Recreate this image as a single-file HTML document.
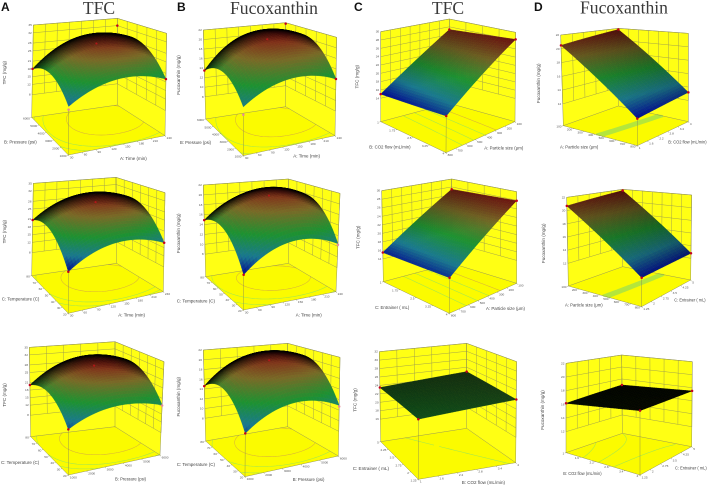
<!DOCTYPE html>
<html lang="en">
<head>
<meta charset="utf-8">
<title>Response surface plots: TFC and Fucoxanthin</title>
<style>
html,body{margin:0;padding:0;background:#fff;width:708px;height:490px;overflow:hidden}
svg{display:block;filter:blur(.35px)}
.title{font-family:"Liberation Serif",serif;font-size:17.6px;fill:#3a3a3a;text-anchor:middle}
.letter{font-family:"Liberation Sans",sans-serif;font-size:12px;font-weight:bold;fill:#111}
.lab{font-family:"Liberation Sans",sans-serif;font-size:4.6px;fill:#444}
.tick{font-family:"Liberation Sans",sans-serif;font-size:3.1px;fill:#555}
</style>
</head>
<body>
<svg id="figure" width="708" height="490" viewBox="0 0 708 490" xmlns="http://www.w3.org/2000/svg">
<rect width="708" height="490" fill="#fff"/>
<text class="letter" x="1" y="11">A</text>
<text class="letter" x="177" y="11">B</text>
<text class="letter" x="354" y="11">C</text>
<text class="letter" x="534" y="11">D</text>
<text class="title" x="99" y="14">TFC</text>
<text class="title" x="274" y="14">Fucoxanthin</text>
<text class="title" x="448" y="14">TFC</text>
<text class="title" x="624" y="13.5">Fucoxanthin</text>
</svg>
<script>
// ---- Data: response values, rows run front->left, columns run front->right ----
const surfaceA1 = [[15, 21.5, 19], [21.2, 30.2, 28.5], [18, 28.5, 27.5]];
const surfaceB1 = [[12, 15.6, 14.1], [15.8, 21.2, 20.2], [13.5, 20.2, 18.8]];
const surfaceA2 = [[12.6, 19.6, 16.8], [21.8, 30.2, 27.8], [20.7, 28.8, 26.8]];
const surfaceB2 = [[9.4, 14, 12.5], [15.2, 20.8, 19.3], [14.9, 19.6, 18.3]];
const surfaceA3 = [[14.2, 20, 18.5], [21.8, 30.6, 28.8], [20, 29.3, 27.8]];
const surfaceB3 = [[10.9, 14.8, 12.9], [16.3, 21, 19.8], [14.6, 20, 18.8]];
const surfaceC1 = [[16.1, 28.3], [15, 27.3]];
const surfaceC2 = [[16, 27.9], [15.5, 27.4]];
const surfaceC3 = [[22.4, 24], [23.5, 24.9]];
const surfaceD1 = [[12.4, 13.2], [20.5, 21.8]];
const surfaceD2 = [[12.6, 12.8], [20.7, 21.8]];
const surfaceD3 = [[18.1, 17.5], [16.15, 17]];

// Design-point values: front, right, left, back, optional centre
const pointsA1 = [14, 19, 18, 32, 30.2];
const pointsB1 = [10.6, 14.1, 13.5, 21.8, 21.2];
const pointsA2 = [12.6, 16.8, 20.7, 0, 30.2];
const pointsB2 = [9.4, 12.3, 14.9, 0, 20.8];
const pointsA3 = [14.2, 18.3, 20, 0, 30.6];
const pointsB3 = [10.9, 12.7, 14.6, 0, 21];
const pointsC1 = [16.1, 28.3, 15, 27.3];
const pointsC2 = [16, 27.9, 15.5, 27.4];
const pointsC3 = [22.4, 24, 23.5, 24.9];
const pointsD1 = [12.4, 13.2, 20.5, 21.8];
const pointsD2 = [12.6, 12.8, 20.7, 21.8];
const pointsD3 = [18.1, 17.5, 16.15, 17];

// Tick labels
const ticksTfcDome = [8, 12, 15, 18, 21, 25, 28, 32, 35];
const ticksFucoDome = [8, 10, 12, 14, 16, 18, 20, 22];
const ticksTfcPlane = [14, 16, 18, 20, 22, 24, 26, 28, 30];
const ticksTfcFlat = [16, 18, 20, 22, 24, 26, 28, 30, 32];
const ticksFucoPlane = [12, 14, 16, 18, 20, 22];
const ticksTime = [30, 60, 90, 120, 150, 180, 210, 240];
const ticksPressure = [1000, 2000, 3000, 4000, 5000, 6000];
const ticksTemperature = [20, 30, 40, 50, 60, 70, 80];
const ticksParticle = [800, 700, 600, 500, 400, 300, 200, 100];
const ticksFlowDown = [4, 3.25, 2.5, 1.75, 1];
const ticksFlowUp = [1, 1.6, 2.2, 2.8, 3.4, 4];
const ticksFlowDownFine = [4, 3.4, 2.8, 2.2, 1.6, 1];
const ticksEntrainerDown = [4, 3.25, 2.5, 1.75, 1];
const ticksEntrainerUp = [1.25, 2, 2.75, 3.5, 4.25, 5];

// Floor contour levels
const contoursTfc = [19, 22, 28];
const contoursFuco = [13, 16, 19.5];
const contoursC12 = [19, 21, 23, 25];
const contoursC3 = [23.9];
const contoursD12 = [16.3, 16.45, 16.6, 16.75, 16.9];
const contoursD3 = [16.6, 17, 17.4];

// ---- Layout: corner positions in 3x crop coordinates, plus crop origin ----
const panels = [
 {id:'a1',o:[0,0],F:[205,465],L:[95,352],R:[495,407],B:[352,315],TF:[207,135],TL:[100,75],TR:[500,100],TB:[352,55],low:.245,z:surfaceA1,pts:pointsA1,zt:ticksTfcDome,ut:ticksTime,vt:ticksPressure,c:[12,32],lv:contoursTfc,
  y:['TFC (mg/g)',18,218],l:['B: Pressure (psi)',12,425,98],r:['A: Time (min)',360,475,80]},
 {id:'b1',o:[175,0],F:[205,467],L:[92,357],R:[480,407],B:[332,320],TF:[205,152],TL:[85,90],TR:[485,112],TB:[332,68],low:.25,z:surfaceB1,pts:pointsB1,zt:ticksFucoDome,ut:ticksTime,vt:ticksPressure,c:[9,22],lv:contoursFuco,
  y:['Fucoxanthin (mg/g)',15,225],l:['B: Pressure (psi)',15,427,93],r:['A: Time (min)',355,468,80]},
 {id:'c1',o:[350,0],F:[288,458],L:[92,365],R:[495,365],B:[298,310],TF:[290,150],TL:[92,95],TR:[497,97],TB:[298,57],low:.26,z:surfaceC1,pts:pointsC1,zt:ticksTfcPlane,ut:ticksParticle,vt:ticksFlowDown,c:[15,28.3],lv:contoursC12,
  y:['TFC (mg/g)',25,230],l:['B: CO2 flow (mL/min)',58,440,124],r:['A: Particle size (\u03bcm)',403,443,117]},
 {id:'d1',o:[530,0],F:[322,437],L:[100,377],R:[475,365],B:[265,318],TF:[322,137],TL:[92,105],TR:[475,100],TB:[265,85],low:.24,z:surfaceD1,pts:pointsD1,zt:ticksFucoPlane,ut:ticksFlowUp,vt:ticksParticle,c:[12.4,21.8],lv:contoursD12,band:1,
  y:['Fucoxanthin (mg/g)',30,250],l:['A: Particle size (\u03bcm)',90,440,115],r:['B: CO2 flow (mL/min)',415,425,115]},
 {id:'a2',o:[0,160],F:[205,460],L:[95,347],R:[490,395],B:[350,310],TF:[205,130],TL:[100,70],TR:[495,98],TB:[348,52],low:.25,z:surfaceA2,pts:pointsA2,zt:ticksTfcDome,ut:ticksTime,vt:ticksTemperature,c:[12.6,32],lv:contoursTfc,
  y:['TFC (mg/g)',18,215],l:['C: Temperature (C)',5,417,113],r:['A: Time (min)',355,465,80]},
 {id:'b2',o:[175,160],F:[205,450],L:[92,350],R:[483,395],B:[340,310],TF:[208,120],TL:[85,75],TR:[495,100],TB:[340,57],low:.245,z:surfaceB2,pts:pointsB2,zt:ticksFucoDome,ut:ticksTime,vt:ticksTemperature,c:[9.4,22],lv:contoursFuco,
  y:['Fucoxanthin (mg/g)',15,220],l:['C: Temperature (C)',5,423,115],r:['A: Time (min)',362,465,78]},
 {id:'c2',o:[350,160],F:[298,460],L:[100,365],R:[500,370],B:[305,310],TF:[300,150],TL:[95,92],TR:[500,95],TB:[305,57],low:.25,z:surfaceC2,pts:pointsC2,zt:ticksTfcPlane,ut:ticksParticle,vt:ticksEntrainerDown,c:[15,28],lv:contoursC12,
  y:['TFC (mg/g)',28,232],l:['C: Entrainer ( mL)',75,442,103],r:['A: Particle size (\u03bcm)',408,445,117]},
 {id:'d2',o:[530,160],F:[335,440],L:[115,378],R:[482,360],B:[278,320],TF:[335,150],TL:[110,112],TR:[485,105],TB:[278,88],low:.255,z:surfaceD2,pts:pointsD2,zt:ticksFucoPlane,ut:ticksEntrainerUp,vt:ticksParticle,c:[12.5,21.8],lv:contoursD12,band:1,
  y:['Fucoxanthin (mg/g)',45,250],l:['A: Particle size (\u03bcm)',105,435,113],r:['C: Entrainer ( mL)',433,420,94]},
 {id:'a3',o:[0,320],F:[205,465],L:[92,350],R:[480,405],B:[345,320],TF:[205,135],TL:[88,82],TR:[492,125],TB:[345,65],low:.24,z:surfaceA3,pts:pointsA3,zt:ticksTfcDome,ut:ticksPressure,vt:ticksTemperature,c:[12,32],lv:contoursTfc,
  y:['TFC (mg/g)',18,225],l:['C: Temperature (C)',3,427,115],r:['B: Pressure (psi)',345,477,93]},
 {id:'b3',o:[175,320],F:[210,470],L:[92,363],R:[490,408],B:[338,320],TF:[212,150],TL:[85,90],TR:[495,112],TB:[338,70],low:.25,z:surfaceB3,pts:pointsB3,zt:ticksFucoDome,ut:ticksPressure,vt:ticksTemperature,c:[9.5,22],lv:contoursFuco,
  y:['Fucoxanthin (mg/g)',15,230],l:['C: Temperature (C)',5,433,115],r:['B: Pressure (psi)',353,478,95]},
 {id:'c3',o:[350,320],F:[205,478],L:[92,365],R:[497,428],B:[350,325],TF:[205,150],TL:[88,95],TR:[500,125],TB:[350,70],low:.25,z:surfaceC3,pts:pointsC3,zt:ticksTfcFlat,ut:ticksFlowUp,vt:ticksEntrainerUp,c:[12,36],lv:contoursC3,
  y:['TFC (mg/g)',20,240],l:['C: Entrainer ( mL)',8,445,109],r:['B: CO2 flow (mL/min)',335,487,130]},
 {id:'d3',o:[530,320],F:[330,465],L:[108,398],R:[485,380],B:[277,340],TF:[330,190],TL:[108,130],TR:[487,125],TB:[275,105],low:.235,z:surfaceD3,pts:pointsD3,zt:ticksFucoPlane,ut:ticksEntrainerUp,vt:ticksFlowDownFine,c:[12,22],lv:contoursD3,
  y:['Fucoxanthin (mg/g)',42,270],l:['B: CO2 flow (mL/min)',100,460,115],r:['C: Entrainer ( mL)',435,443,95]}
];

const NS = 'http://www.w3.org/2000/svg';
const figure = document.getElementById('figure');
const MESH = 34;
const RAMP = [[0,[0,8,145]],[.2,[25,120,145]],[.45,[28,145,50]],[.72,[120,105,40]],[1,[130,20,20]]];

function make(tag, parent){
  const e = document.createElementNS(NS, tag);
  parent.appendChild(e);
  return e;
}
function lerp(a,b,t){return a+(b-a)*t;}
function bilerp(c00,c10,c01,c11,u,v){
  return [lerp(lerp(c00[0],c10[0],u),lerp(c01[0],c11[0],u),v),
          lerp(lerp(c00[1],c10[1],u),lerp(c01[1],c11[1],u),v)];
}
function basis(n,x){
  const w=[];
  for(let i=0;i<n;i++){
    let p=1;
    for(let j=0;j<n;j++){ if(j!==i) p*=(x*(n-1)-j)/(i-j); }
    w.push(p);
  }
  return w;
}
function surfaceAt(grid,u,v){
  const wv=basis(grid.length,v), wu=basis(grid[0].length,u);
  let s=0;
  for(let i=0;i<grid.length;i++) for(let j=0;j<grid[0].length;j++) s+=wv[i]*wu[j]*grid[i][j];
  return s;
}
function rampColor(f,b){
  f=Math.max(0,Math.min(1,f));
  let k=0;
  while(k<RAMP.length-2 && f>RAMP[k+1][0]) k++;
  const t=(f-RAMP[k][0])/(RAMP[k+1][0]-RAMP[k][0]);
  const c=RAMP[k][1].map((x,i)=>Math.round(lerp(x,RAMP[k+1][1][i],t)*b));
  return 'rgb('+c.join(',')+')';
}
function polyArea(p){
  let a=0;
  for(let i=0;i<p.length;i++){
    const q=p[(i+1)%p.length];
    a+=p[i][0]*q[1]-q[0]*p[i][1];
  }
  return a/2;
}
function fmt(p){return p[0].toFixed(2)+','+p[1].toFixed(2);}

panels.forEach(function(P){
  const sc=function(c){return [P.o[0]+c[0]/3,P.o[1]+c[1]/3];};
  const F=sc(P.F),L=sc(P.L),R=sc(P.R),B=sc(P.B),TF=sc(P.TF),TL=sc(P.TL),TR=sc(P.TR),TB=sc(P.TB);
  const zMin=P.zt[0], zMax=P.zt[P.zt.length-1];
  const heightFrac=function(z){return P.low+(1-P.low)*(z-zMin)/(zMax-zMin);};
  const project=function(u,v,t){
    const a=bilerp(F,R,L,B,u,v), b=bilerp(TF,TR,TL,TB,u,v);
    return [lerp(a[0],b[0],t),lerp(a[1],b[1],t)];
  };
  const colorFrac=function(z){return (z-P.c[0])/(P.c[1]-P.c[0]);};

  const g=make('g',figure);
  
  

  // walls and floor
  const wallLeft=make('polygon',g);
  
  
  wallLeft.setAttribute('points',[L,B,TB,TL].map(fmt).join(' '));
  wallLeft.setAttribute('fill','#ffff14');
  const wallRight=make('polygon',g);
  
  
  wallRight.setAttribute('points',[B,R,TR,TB].map(fmt).join(' '));
  wallRight.setAttribute('fill','#ffff14');
  const floor=make('polygon',g);
  
  
  floor.setAttribute('points',[F,R,B,L].map(fmt).join(' '));
  floor.setAttribute('fill','#fbfb00');

  // wall grid
  let wallPath='';
  P.zt.forEach(function(z){
    const t=heightFrac(z);
    wallPath+='M'+fmt(project(0,1,t))+'L'+fmt(project(1,1,t))+'L'+fmt(project(1,0,t));
  });
  P.ut.forEach(function(_,i){
    const u=i/(P.ut.length-1);
    wallPath+='M'+fmt(project(u,1,P.low))+'L'+fmt(project(u,1,1));
  });
  P.vt.forEach(function(_,i){
    const v=i/(P.vt.length-1);
    wallPath+='M'+fmt(project(1,v,P.low))+'L'+fmt(project(1,v,1));
  });
  const wallGrid=make('path',g);
  
  
  wallGrid.setAttribute('d',wallPath);
  wallGrid.setAttribute('fill','none');
  wallGrid.setAttribute('stroke','#9a9a50');
  wallGrid.setAttribute('stroke-width','.45');

  // floor contours
  P.lv.forEach(function(level){
    const M=40;
    let d='';
    for(let i=0;i<M;i++) for(let j=0;j<M;j++){
      const corners=[[j/M,i/M],[(j+1)/M,i/M],[(j+1)/M,(i+1)/M],[j/M,(i+1)/M]];
      const vals=corners.map(function(c){return surfaceAt(P.z,c[0],c[1]);});
      const hits=[];
      for(let e=0;e<4;e++){
        const a=vals[e], b=vals[(e+1)%4];
        if((a-level)*(b-level)<0){
          const s=(level-a)/(b-a), c0=corners[e], c1=corners[(e+1)%4];
          hits.push(project(lerp(c0[0],c1[0],s),lerp(c0[1],c1[1],s),0));
        }
      }
      if(hits.length>=2) d+='M'+fmt(hits[0])+'L'+fmt(hits[1]);
    }
    const contour=make('path',g);
    
    
    contour.setAttribute('d',d);
    contour.setAttribute('fill','none');
    contour.setAttribute('stroke',P.band?'#b4e63c':(colorFrac(level)>.72?'#d8b23a':'#a2e650'));
    contour.setAttribute('stroke-width',P.band?'2':'.55');
  });

  // box edges and floor ticks
  let edgePath='M'+fmt(L)+'L'+fmt(F)+'L'+fmt(R)+'L'+fmt(B)+'L'+fmt(L)
    +'M'+fmt(L)+'L'+fmt(TL)+'L'+fmt(TB)+'L'+fmt(TR)+'L'+fmt(R)+'M'+fmt(B)+'L'+fmt(TB);
  P.ut.forEach(function(_,i){
    const p=project(i/(P.ut.length-1),0,0);
    edgePath+='M'+fmt(p)+'L'+fmt([p[0]+.8,p[1]+1.2]);
  });
  P.vt.forEach(function(_,i){
    const p=project(0,i/(P.vt.length-1),0);
    edgePath+='M'+fmt(p)+'L'+fmt([p[0]-1.2,p[1]+.4]);
  });
  const edges=make('path',g);
  
  
  edges.setAttribute('d',edgePath);
  edges.setAttribute('fill','none');
  edges.setAttribute('stroke','#8d8d50');
  edges.setAttribute('stroke-width','.45');

  // drop line from front corner
  const dropLine=make('line',g);
  
  
  const dropTop=project(0,0,heightFrac(P.pts[0]));
  dropLine.setAttribute('x1',F[0]);
  dropLine.setAttribute('y1',F[1]);
  dropLine.setAttribute('x2',dropTop[0]);
  dropLine.setAttribute('y2',dropTop[1]);
  dropLine.setAttribute('stroke','#8d8d50');
  dropLine.setAttribute('stroke-width','.45');

  // surface mesh, painted from the back corner to the front
  const mesh=make('g',g);
  
  
  const node=function(i,j){
    return project(j/MESH,i/MESH,heightFrac(surfaceAt(P.z,j/MESH,i/MESH)));
  };
  const orient=Math.sign(polyArea([F,R,B,L]));
  for(let i=MESH-1;i>=0;i--){
    for(let j=MESH-1;j>=0;j--){
      const q=[node(i,j),node(i,j+1),node(i+1,j+1),node(i+1,j)];
      const area=polyArea(q)*orient*MESH*MESH;
      const bright=Math.pow(Math.max(0,Math.min(1,(area-1500)/4500)),1.1);
      const zMid=surfaceAt(P.z,(j+.5)/MESH,(i+.5)/MESH);
      const col=rampColor(colorFrac(zMid),bright);
      const cell=make('polygon',mesh);
      
      
      cell.setAttribute('points',q.map(fmt).join(' '));
      cell.setAttribute('fill',col);
      cell.setAttribute('stroke',col);
      cell.setAttribute('stroke-width','.35');
    }
  }

  // design points
  const spots=[[0,0],[1,0],[0,1],[1,1],[.5,.5]];
  P.pts.forEach(function(value,k){
    if(!value) return;
    const s=spots[k];
    const p=project(s[0],s[1],heightFrac(value));
    const below=surfaceAt(P.z,s[0],s[1])-value>.1;
    const dot=make('circle',g);
    
    
    dot.setAttribute('cx',p[0].toFixed(2));
    dot.setAttribute('cy',p[1].toFixed(2));
    dot.setAttribute('r',k===4?'1.1':'1.25');
    dot.setAttribute('fill',below?'#e88a9a':(k===4?'#b01818':'#c4001c'));
  });

  // z tick labels
  P.zt.forEach(function(z){
    const p=project(0,1,heightFrac(z));
    const label=make('text',g);
    
    
    label.setAttribute('class','tick');
    label.setAttribute('x',(p[0]-1.5).toFixed(2));
    label.setAttribute('y',(p[1]+1).toFixed(2));
    label.setAttribute('text-anchor','end');
    label.textContent=z;
  });
  // right floor axis tick labels
  P.ut.forEach(function(val,i){
    const p=project(i/(P.ut.length-1),0,0);
    const label=make('text',g);
    
    
    label.setAttribute('class','tick');
    label.setAttribute('x',(p[0]+1.6).toFixed(2));
    label.setAttribute('y',(p[1]+3.4).toFixed(2));
    label.textContent=val;
  });
  // left floor axis tick labels
  P.vt.forEach(function(val,i){
    const p=project(0,i/(P.vt.length-1),0);
    const label=make('text',g);
    
    
    label.setAttribute('class','tick');
    label.setAttribute('x',(p[0]-1.8).toFixed(2));
    label.setAttribute('y',(p[1]+2).toFixed(2));
    label.setAttribute('text-anchor','end');
    label.textContent=val;
  });

  // axis titles
  const yTitle=make('text',g);
  
  
  yTitle.setAttribute('class','lab');
  const yPos=sc([P.y[1],P.y[2]]);
  yTitle.setAttribute('x',yPos[0].toFixed(1));
  yTitle.setAttribute('y',yPos[1].toFixed(1));
  yTitle.setAttribute('text-anchor','middle');
  yTitle.setAttribute('transform','rotate(-90 '+yPos[0].toFixed(1)+' '+yPos[1].toFixed(1)+')');
  yTitle.textContent=P.y[0];

  const leftTitle=make('text',g);
  
  
  leftTitle.setAttribute('class','lab');
  const lPos=sc([P.l[1],P.l[2]+5]);
  leftTitle.setAttribute('x',lPos[0].toFixed(1));
  leftTitle.setAttribute('y',lPos[1].toFixed(1));
  leftTitle.setAttribute('textLength',(P.l[3]/3).toFixed(1));
  leftTitle.setAttribute('lengthAdjust','spacingAndGlyphs');
  leftTitle.textContent=P.l[0];

  const rightTitle=make('text',g);
  
  
  rightTitle.setAttribute('class','lab');
  const rPos=sc([P.r[1],P.r[2]+5]);
  rightTitle.setAttribute('x',rPos[0].toFixed(1));
  rightTitle.setAttribute('y',rPos[1].toFixed(1));
  rightTitle.setAttribute('textLength',(P.r[3]/3).toFixed(1));
  rightTitle.setAttribute('lengthAdjust','spacingAndGlyphs');
  rightTitle.textContent=P.r[0];
});
</script>
</body>
</html>
